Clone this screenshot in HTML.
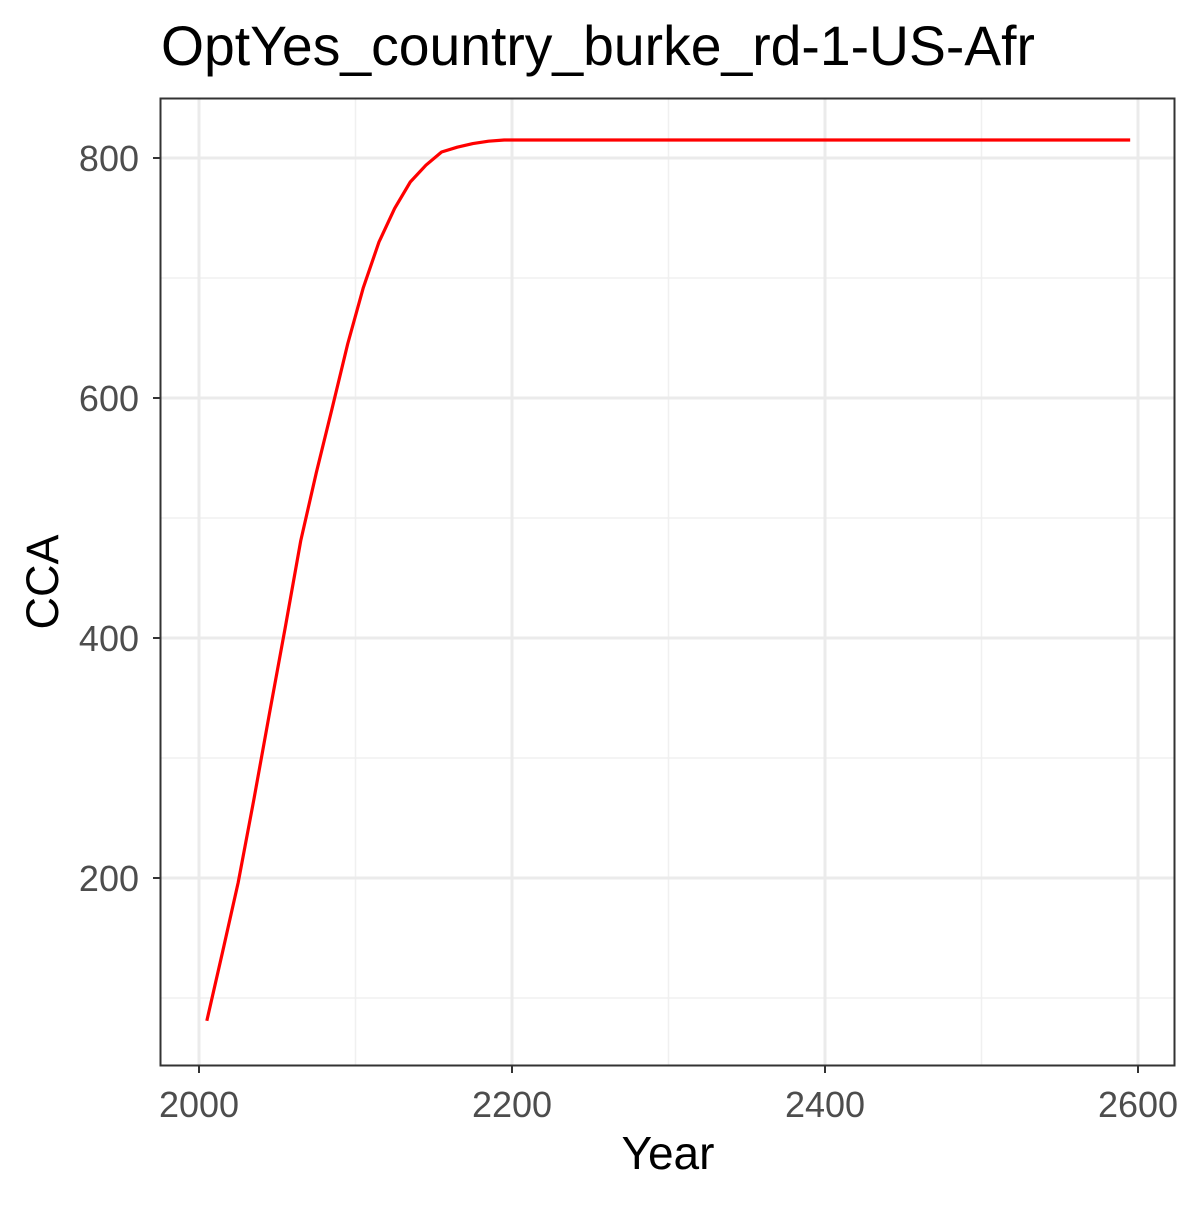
<!DOCTYPE html>
<html><head><meta charset="utf-8"><style>
body{margin:0;background:#fff}
svg text{font-family:"Liberation Sans",Arial,sans-serif}
</style></head><body>
<svg id="chart" width="1200" height="1200" xmlns="http://www.w3.org/2000/svg">
<rect width="1200" height="1200" fill="#fff"/>
<text x="161" y="65" font-size="55.3" fill="#000">OptYes_country_burke_rd-1-US-Afr</text>
<g id="grid"></g>
<g id="series"></g>
<rect x="160.5" y="98.5" width="1014" height="967" fill="none" stroke="#333" stroke-width="2"/>
<g id="axes"></g>
<text x="668" y="1169" font-size="46" text-anchor="middle" fill="#000">Year</text>
<text transform="translate(58,582) rotate(-90)" font-size="45" text-anchor="middle" fill="#000">CCA</text>
</svg>
<script>
const years=[2005,2015,2025,2035,2045,2055,2065,2075,2085,2095,2105,2115,2125,2135,2145,2155,2165,2175,2185,2195,2295,2395,2495,2595];
const cca=[81,138,196,265,337,408,481,538,591,645,692,730,758,780,794,805,809,812,814,815,815,815,815,815];
const xTicks=[2000,2200,2400,2600];
const xMinor=[2100,2300,2500];
const yTicks=[200,400,600,800];
const yMinor=[100,300,500,700];
const NS="http://www.w3.org/2000/svg";
function xs(v){return 199+(v-2000)*1.565;}
function ys(v){return 878-(v-200)*1.2;}
const grid=document.getElementById('grid'),axes=document.getElementById('axes'),series=document.getElementById('series');
function line(p,x1,y1,x2,y2,c,w){const l=document.createElementNS(NS,'line');l.setAttribute('x1',x1);l.setAttribute('y1',y1);l.setAttribute('x2',x2);l.setAttribute('y2',y2);l.setAttribute('stroke',c);l.setAttribute('stroke-width',w);p.appendChild(l);return l;}
function txt(p,x,y,s,a){const t=document.createElementNS(NS,'text');t.setAttribute('x',x);t.setAttribute('y',y);t.setAttribute('font-size',36);t.setAttribute('fill','#4d4d4d');t.setAttribute('text-anchor',a);t.textContent=s;p.appendChild(t);return t;}
xMinor.forEach(v=>{const l=line(grid,xs(v),99,xs(v),1065,'#f0f0f0',1.5);

});
yMinor.forEach(v=>{const l=line(grid,161,ys(v),1174,ys(v),'#f0f0f0',1.5);

});
xTicks.forEach(v=>{const l=line(grid,xs(v),99,xs(v),1065,'#ebebeb',3);


const t=line(axes,xs(v),1066,xs(v),1073,'#333',2);


const tx=txt(axes,xs(v),1117,String(v),'middle');

});
yTicks.forEach(v=>{const l=line(grid,161,ys(v),1174,ys(v),'#ebebeb',3);


const t=line(axes,153,ys(v),160,ys(v),'#333',2);


const tx=txt(axes,139,ys(v)+13,String(v),'end');

});
const p=document.createElementNS(NS,'polyline');
p.setAttribute('points',years.map((y,i)=>xs(y)+','+ys(cca[i])).join(' '));
p.setAttribute('fill','none');p.setAttribute('stroke','#ff0000');p.setAttribute('stroke-width',3.2);
p.setAttribute('stroke-linejoin','round');


series.appendChild(p);
</script>
</body></html>
